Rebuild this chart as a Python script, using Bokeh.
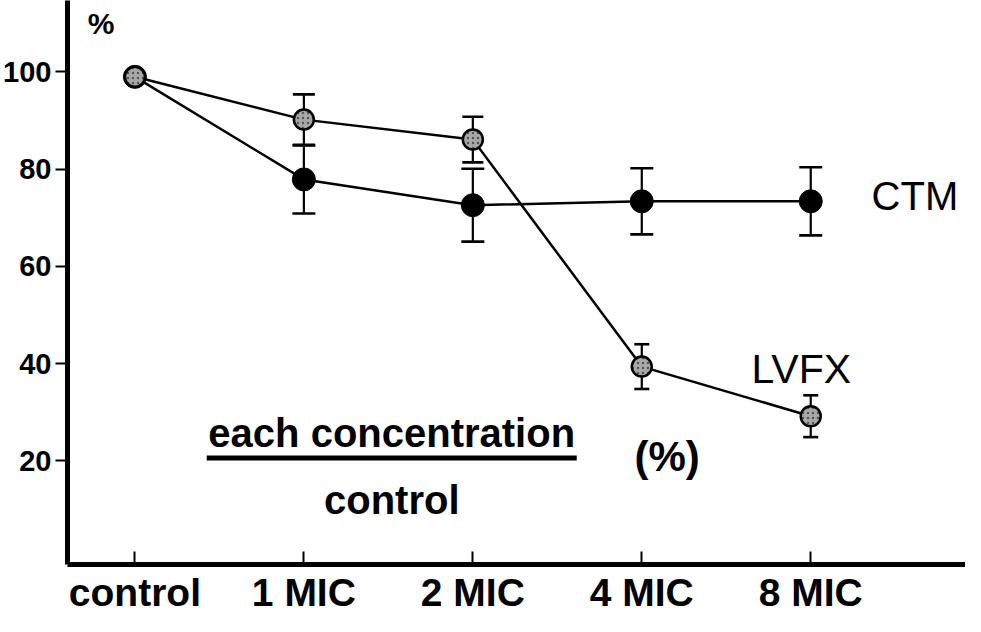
from bokeh.plotting import figure
from bokeh.models import Range1d, FixedTicker, Label
from bokeh.embed import file_html
from bokeh.resources import INLINE

# ---- data ----
categories = ["control", "1 MIC", "2 MIC", "4 MIC", "8 MIC"]
ctm_mean = [99.0, 77.9, 72.6, 73.4, 73.4]
ctm_err = [0.0, 7.0, 7.5, 6.8, 7.0]
lvfx_mean = [99.0, 90.2, 86.1, 39.4, 29.2]
lvfx_err = [0.0, 5.2, 4.7, 4.6, 4.3]
y_ticks = [20, 40, 60, 80, 100]

# ---- style ----
FONT = "Liberation Sans"
lvfx_cap = [22, 22, 21, 15, 15]
ctm_cap = [23, 23, 23, 23, 23]

xs = list(range(len(categories)))

p = figure(width=965, height=616,
           x_range=Range1d(-0.399, 4.916), y_range=Range1d(-1.3, 114.7),
           output_backend="svg", toolbar_location=None,
           min_border_left=63, min_border_right=0, min_border_top=0,
           min_border_bottom=40)
p.outline_line_color = None
p.xgrid.visible = False
p.ygrid.visible = False
p.background_fill_color = "white"
p.border_fill_color = "white"

# x axis
xa = p.xaxis[0]
xa.ticker = FixedTicker(ticks=xs)
xa.major_label_overrides = {i: c for i, c in zip(xs, categories)}
xa.axis_line_width = 5
xa.axis_line_color = "black"
xa.major_tick_in = 13
xa.major_tick_out = 0
xa.major_tick_line_width = 2
xa.minor_tick_line_color = None
xa.major_label_text_font = FONT
xa.major_label_text_font_style = "bold"
xa.major_label_text_font_size = "39px"
xa.major_label_text_color = "black"
xa.major_label_standoff = 6

# y axis
ya = p.yaxis[0]
ya.ticker = FixedTicker(ticks=y_ticks)
ya.axis_line_width = 5
ya.axis_line_color = "black"
ya.major_tick_in = 0
ya.major_tick_out = 12
ya.major_tick_line_width = 2
ya.minor_tick_line_color = None
ya.major_label_text_font = FONT
ya.major_label_text_font_style = "bold"
ya.major_label_text_font_size = "29px"
ya.major_label_text_color = "black"
ya.major_label_standoff = 4

# lines
p.line(xs, ctm_mean, line_color="black", line_width=2.5)
p.line(xs, lvfx_mean, line_color="black", line_width=2.5)

# error bars (skip points with no error)
def errbars(means, errs, caps):
    idx = [i for i in xs if errs[i] > 0]
    x = [xs[i] for i in idx]
    lo = [means[i] - errs[i] for i in idx]
    hi = [means[i] + errs[i] for i in idx]
    cs = [caps[i] for i in idx]
    p.segment(x0=x, y0=lo, x1=x, y1=hi, line_color="black", line_width=2.2)
    p.scatter(x + x, lo + hi, marker="dash", size=cs + cs,
              line_color="black", line_width=2.6)

errbars(ctm_mean, ctm_err, ctm_cap)
errbars(lvfx_mean, lvfx_err, lvfx_cap)

# markers
p.scatter(xs, ctm_mean, marker="circle", size=23, fill_color="black",
          line_color="black", line_width=1)
p.scatter(xs, lvfx_mean, marker="circle", size=20, fill_color="#a8a8a8",
          line_color="black", line_width=2.5,
          hatch_pattern="dot", hatch_color="#555555", hatch_scale=5,
          hatch_weight=1.5)

# annotations
p.add_layout(Label(x=47, x_units="screen", y=110, text="%",
                   text_font=FONT, text_font_style="bold",
                   text_font_size="30px", text_align="right",
                   text_baseline="middle", text_color="black"))
p.add_layout(Label(x=4.36, y=74.4, text="CTM", text_font=FONT,
                   text_font_size="40px", text_align="left",
                   text_baseline="alphabetic", text_color="black"))
p.add_layout(Label(x=3.65, y=39.0, text="LVFX", text_font=FONT,
                   text_font_size="41px", text_align="left",
                   text_baseline="alphabetic", text_color="black"))
p.add_layout(Label(x=1.52, y=25.7, text="each concentration", text_font=FONT,
                   text_font_style="bold", text_font_size="40px",
                   text_align="center", text_baseline="alphabetic",
                   text_color="black"))
p.add_layout(Label(x=1.52, y=12.0, text="control", text_font=FONT,
                   text_font_style="bold", text_font_size="40px",
                   text_align="center", text_baseline="alphabetic",
                   text_color="black"))
p.add_layout(Label(x=3.15, y=21.0, text="(%)", text_font=FONT,
                   text_font_style="bold", text_font_size="42px",
                   text_align="center", text_baseline="middle",
                   text_color="black"))
p.segment(x0=[0.425], y0=[20.6], x1=[2.615], y1=[20.6],
          line_color="black", line_width=5)

open("out.html", "w").write(file_html(p, INLINE))
